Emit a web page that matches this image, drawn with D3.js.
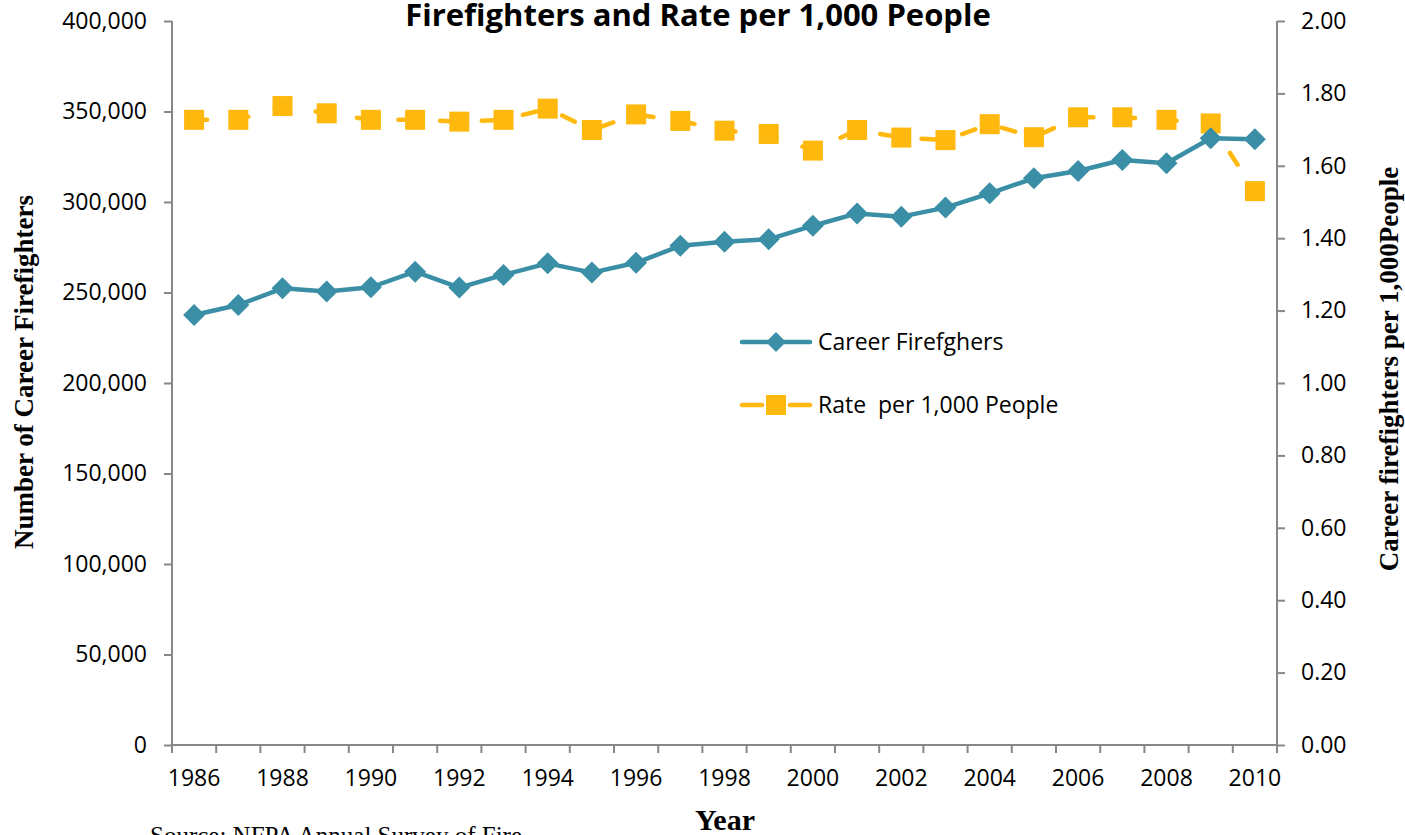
<!DOCTYPE html>
<html><head><meta charset="utf-8">
<script src="https://cdn.jsdelivr.net/npm/d3@7"></script>
<style>body{margin:0;background:#fff}svg{display:block}</style>
</head><body>
<svg id="c" width="1405" height="835"></svg>
<script>
const years = [1986,1987,1988,1989,1990,1991,1992,1993,1994,1995,1996,1997,1998,1999,2000,2001,2002,2003,2004,2005,2006,2007,2008,2009,2010];
const firefighters = [237600,243100,252300,250500,252900,261500,252700,259700,266100,261000,266400,275800,278100,279400,286900,293700,291900,296900,304800,313100,317100,323200,321400,335200,334600];
const ratePer1000 = [1.727,1.727,1.765,1.745,1.727,1.727,1.722,1.727,1.758,1.699,1.742,1.724,1.697,1.688,1.642,1.699,1.678,1.671,1.715,1.679,1.734,1.734,1.727,1.717,1.530];
const leftTicks = [0,50000,100000,150000,200000,250000,300000,350000,400000];
const rightTicks = [0,0.2,0.4,0.6,0.8,1.0,1.2,1.4,1.6,1.8,2.0];
const labelYears = years.filter(y => y % 2 === 0);

const svg = d3.select("#c");
const L = 172, R = 1277, T = 21, B = 745;
const teal = "#3A8FA6", gold = "#FFB80D", axisCol = "#878787";
const sans = "'Open Sans', sans-serif", serif = "'Liberation Serif', 'Times New Roman', serif";

const x = d3.scaleBand().domain(years).range([L, R]).paddingInner(0).paddingOuter(0);
const yL = d3.scaleLinear().domain([0, 400000]).range([B, T]);
const yR = d3.scaleLinear().domain([0, 2]).range([B, T]);
const cx = d => x(d) + x.bandwidth() / 2;

// left axis
const gl = svg.append("g").attr("transform", `translate(${L},0)`)
  .call(d3.axisLeft(yL).tickValues(leftTicks).tickSize(8).tickPadding(17).tickFormat(d3.format(",")));
// right axis
const gr = svg.append("g").attr("transform", `translate(${R},0)`)
  .call(d3.axisRight(yR).tickValues(rightTicks).tickSize(8).tickPadding(16).tickFormat(d3.format(".2f")));
[gl, gr].forEach(g => {
  g.selectAll("path.domain").remove();
  g.selectAll("line").attr("stroke", axisCol).attr("stroke-width", 2);
  g.selectAll("text").attr("font-family", sans).attr("font-size", 23).attr("fill", "#000");
});
svg.append("line").attr("x1", L).attr("x2", L).attr("y1", T).attr("y2", B).attr("stroke", axisCol).attr("stroke-width", 2);
svg.append("line").attr("x1", R).attr("x2", R).attr("y1", T).attr("y2", B).attr("stroke", axisCol).attr("stroke-width", 2);

// bottom axis
svg.append("line").attr("x1", L).attr("x2", R).attr("y1", B).attr("y2", B).attr("stroke", axisCol).attr("stroke-width", 2);
const tickXs = years.map(d => x(d)).concat([R]);
svg.append("g").selectAll("line").data(tickXs).join("line")
  .attr("x1", d => d).attr("x2", d => d).attr("y1", B).attr("y2", B + 8)
  .attr("stroke", axisCol).attr("stroke-width", 2);
svg.append("g").selectAll("text").data(labelYears).join("text")
  .attr("x", d => cx(d)).attr("y", 786).attr("text-anchor", "middle")
  .attr("font-family", sans).attr("font-size", 23).text(d => d);

// rate line (dashed)
const lineR = d3.line().x((d, i) => cx(years[i])).y(d => yR(d));
svg.append("path").datum(ratePer1000).attr("d", lineR)
  .attr("fill", "none").attr("stroke", gold).attr("stroke-width", 4.5)
  .attr("stroke-dasharray", "14,27.7").attr("stroke-dashoffset", 1).attr("stroke-linecap", "round");
svg.append("g").selectAll("rect").data(ratePer1000).join("rect")
  .attr("x", (d, i) => cx(years[i]) - 10).attr("y", d => yR(d) - 10)
  .attr("width", 20).attr("height", 20).attr("fill", gold);

// firefighters line
const lineL = d3.line().x((d, i) => cx(years[i])).y(d => yL(d));
svg.append("path").datum(firefighters).attr("d", lineL)
  .attr("fill", "none").attr("stroke", teal).attr("stroke-width", 4.5).attr("stroke-linejoin", "round");
const diamond = s => `M0,${-s}L${s},0L0,${s}L${-s},0Z`;
svg.append("g").selectAll("path").data(firefighters).join("path")
  .attr("transform", (d, i) => `translate(${cx(years[i])},${yL(d)})`)
  .attr("d", diamond(11)).attr("fill", teal);

// legend
const lg = svg.append("g");
lg.append("line").attr("x1", 742).attr("x2", 810).attr("y1", 342).attr("y2", 342)
  .attr("stroke", teal).attr("stroke-width", 4.5).attr("stroke-linecap", "round");
lg.append("path").attr("transform", "translate(776,342)").attr("d", diamond(10)).attr("fill", teal);
lg.append("text").attr("x", 818).attr("y", 350).attr("font-family", sans).attr("font-size", 23).text("Career Firefghers");
lg.append("line").attr("x1", 742).attr("x2", 762).attr("y1", 405).attr("y2", 405)
  .attr("stroke", gold).attr("stroke-width", 4.5).attr("stroke-linecap", "round");
lg.append("line").attr("x1", 790).attr("x2", 810).attr("y1", 405).attr("y2", 405)
  .attr("stroke", gold).attr("stroke-width", 4.5).attr("stroke-linecap", "round");
lg.append("rect").attr("x", 766).attr("y", 395).attr("width", 20).attr("height", 20).attr("fill", gold);
lg.append("text").attr("x", 818).attr("y", 413).attr("font-family", sans).attr("font-size", 23).attr("xml:space", "preserve").text("Rate  per 1,000 People");

// titles
svg.append("text").attr("x", 698).attr("y", 26).attr("text-anchor", "middle")
  .attr("font-family", sans).attr("font-weight", "bold").attr("font-size", 31)
  .text("Firefighters and Rate per 1,000 People");
svg.append("text").attr("transform", "translate(33,372) rotate(-90)").attr("text-anchor", "middle")
  .attr("font-family", serif).attr("font-weight", "bold").attr("font-size", 27)
  .text("Number of Career Firefighters");
svg.append("text").attr("transform", "translate(1398,369) rotate(-90)").attr("text-anchor", "middle")
  .attr("font-family", serif).attr("font-weight", "bold").attr("font-size", 27)
  .text("Career firefighters per 1,000People");
svg.append("text").attr("x", 725).attr("y", 830).attr("text-anchor", "middle")
  .attr("font-family", serif).attr("font-weight", "bold").attr("font-size", 30).text("Year");
svg.append("text").attr("x", 150).attr("y", 844)
  .attr("font-family", serif).attr("font-size", 25).text("Source: NFPA Annual Survey of Fire");
</script>
</body></html>
